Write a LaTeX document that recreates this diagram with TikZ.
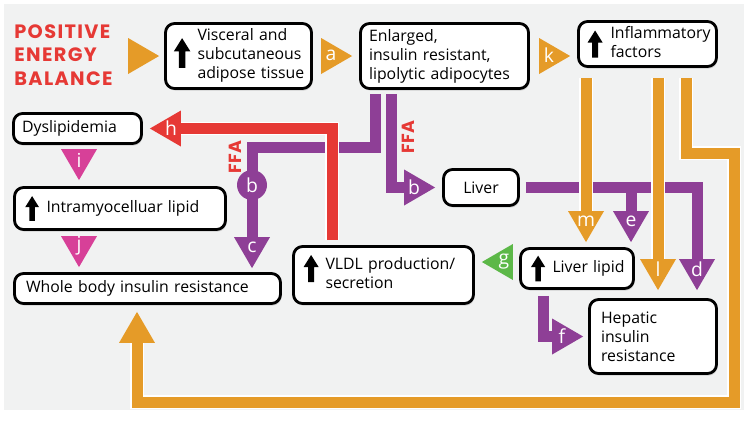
\documentclass[tikz,border=0pt]{standalone}
\usepackage{fontspec}
\setmainfont{Open Sans}
\newfontfamily\titlefont{Poppins}[LetterSpace=7]
\newfontfamily\ffafont{Poppins}
\usetikzlibrary{arrows.meta,shadows}

\definecolor{orangeC}{HTML}{E59B28}
\definecolor{purpleC}{HTML}{8E3F96}
\definecolor{redC}{HTML}{E63935}
\definecolor{pinkC}{HTML}{D74098}
\definecolor{greenC}{HTML}{5CB848}
\definecolor{bgC}{HTML}{F1F2F2}

\tikzset{
  box/.style={draw, line width=1.6pt, rounded corners=0.18cm, fill=white,
    drop shadow={shadow xshift=0.6pt, shadow yshift=-1.2pt, opacity=0.3},
    inner xsep=0.17cm, inner ysep=0pt, align=left,
    font=\fontsize{9}{10.8}\selectfont},
  shaft/.style={line width=0.22cm, -{Triangle[width=0.72cm, length=0.62cm, line width=0pt]}},
  tri/.style={line width=0.1pt, -{Triangle[width=0.72cm, length=0.62cm, line width=0pt]}},
  halo/.style={preaction={draw=white, line width=0.27cm}},
  lbl/.style={text=white, inner sep=0pt, font=\fontsize{11}{13}\selectfont},
  ffa/.style={text=redC, rotate=90, inner sep=0pt, font=\ffafont\bfseries\fontsize{10}{12}\selectfont},
  upar/.pic={\fill (-0.06cm,-0.27cm) -- (0.06cm,-0.27cm) -- (0.06cm,0.03cm) -- (0.15cm,0.03cm) -- (0cm,0.27cm) -- (-0.15cm,0.03cm) -- (-0.06cm,0.03cm) -- cycle;}
}

\begin{document}
\begin{tikzpicture}[x=0.02cm, y=-0.02cm]

\useasboundingbox (0,0) rectangle (750,420);
\fill[white] (0,0) rectangle (750,420);
\fill[bgC] (4,4) rectangle (744,410);

\node[anchor=north west, align=left, inner sep=0pt, text=redC, font=\titlefont\bfseries\fontsize{11}{13.4}\selectfont] (title) at (14,24) {POSITIVE\\ENERGY\\BALANCE};

\node[box, text width=2.58cm, minimum height=1.3cm] (vis) at (238.5,56) {\hspace*{0.47cm}\begin{tabular}{@{}l@{}}Visceral and\\subcutaneous\\adipose tissue\end{tabular}};
\node[box, text width=3.02cm, minimum height=1.3cm] (enl) at (444.5,56) {Enlarged,\\insulin resistant,\\lipolytic adipocytes};
\node[box, text width=2.42cm, minimum height=0.9cm] (infl) at (647.5,44) {\hspace*{0.47cm}\begin{tabular}{@{}l@{}}Inflammatory\\factors\end{tabular}};
\node[box, text width=2.22cm, minimum height=0.6cm] (dys) at (77.5,128.5) {Dyslipidemia};
\node[box, text width=3.88cm, minimum height=0.84cm] (intra) at (120,208.5) {\hspace*{0.47cm}Intramyocelluar lipid};
\node[box, inner xsep=0.23cm, text width=4.86cm, minimum height=0.6cm] (whole) at (147.5,288.5) {Whole body insulin resistance};
\node[box, text width=3.26cm, minimum height=1.14cm] (vldl) at (383.5,275) {\hspace*{0.47cm}\begin{tabular}{@{}l@{}}VLDL production/\\secretion\end{tabular}};
\node[box, align=center, text width=1.16cm, minimum height=0.72cm] (liver) at (481,187.5) {Liver};
\node[box, text width=1.92cm, minimum height=0.8cm] (llip) at (577,268.5) {\hspace*{0.47cm}Liver lipid};
\node[box, inner xsep=0.23cm, text width=2.08cm, minimum height=1.48cm] (hep) at (653,336.5) {Hepatic\\insulin\\resistance};

\draw[shaft, purpleC, shorten <=0.08cm, shorten >=0.08cm] (375,0 |- enl.south) |- (252,147) -- (252,0 |- whole.north);
\node[circle, fill=purpleC, minimum size=0.6cm, lbl] (bc) at (252,185) {b};
\draw[shaft, purpleC, shorten <=0.08cm, shorten >=0.14cm] (391,0 |- enl.south) |- (liver.west);
\draw[shaft, purpleC, shorten <=0.12cm, shorten >=0.16cm] (liver.east) -| (697,0 |- hep.north);
\draw[shaft, purpleC, shorten >=0.1cm] (631,0 |- liver.east) -- (631,0 |- llip.north);
\draw[shaft, purpleC, shorten <=0.12cm, shorten >=0.1cm] (543,0 |- llip.south) |- (hep.west);
\draw[shaft, halo, redC, shorten <=0.1cm, shorten >=0.14cm] (332,0 |- vldl.north) |- (dys.east);
\draw[shaft, halo, orangeC, shorten <=0.2cm, shorten >=0.1cm] (586,0 |- infl.south) -- (586,0 |- llip.north);
\draw[shaft, halo, orangeC, shorten <=0.2cm, shorten >=0.16cm] (658,0 |- infl.south) -- (658,0 |- hep.north);
\draw[shaft, halo, orangeC, shorten <=0.2cm, shorten >=0.14cm] (686,0 |- infl.south) |- (734,153) |- (137,402) -- (137,0 |- whole.south);

\draw[tri, orangeC, shorten <=0.32cm, shorten >=0.1cm] (title.east |- vis.west) -- (vis.west);
\draw[tri, orangeC, shorten <=0.24cm, shorten >=0.14cm] (vis.east) -- (enl.west);
\draw[tri, orangeC, shorten <=0.24cm, shorten >=0.14cm] (enl.east) -- (enl.east -| infl.west);
\draw[tri, pinkC, shorten <=0.24cm, shorten >=0.12cm] (79,0 |- dys.south) -- (79,0 |- intra.north);
\draw[tri, pinkC, shorten <=0.24cm, shorten >=0.1cm] (79,0 |- intra.south) -- (79,0 |- whole.north);
\draw[tri, greenC, shorten <=0.2cm, shorten >=0.14cm] (llip.west |- 0,262) -- (vldl.east |- 0,262);

\pic[scale=1.1] at ([xshift=0.36cm, yshift=0.06cm]vis.west) {upar};
\pic at ([xshift=0.36cm]infl.west) {upar};
\pic[scale=0.92] at ([xshift=0.38cm]intra.west) {upar};
\pic at ([xshift=0.38cm, yshift=0.13cm]vldl.west) {upar};
\pic[scale=0.95] at ([xshift=0.38cm]llip.west) {upar};

\node[lbl] (la) at (331,55) {a};
\node[lbl] (lk) at (549,55) {k};
\node[lbl] (lh) at (171,128) {h};
\node[lbl] (li) at (79,160) {i};
\node[lbl] (lj) at (79,246) {j};
\node[lbl] (lc) at (252,247) {c};
\node[lbl] (lb) at (414,187) {b};
\node[lbl] (le) at (631,221) {e};
\node[lbl] (lm) at (586,221) {m};
\node[lbl] (ll) at (658,269) {l};
\node[lbl] (ld) at (697,269) {d};
\node[lbl] (lg) at (504,262) {g};
\node[lbl] (lf) at (562,336) {f};

\node[ffa] (ffa1) at (235,157) {FFA};
\node[ffa] (ffa2) at (408,137) {FFA};

\end{tikzpicture}
\end{document}
